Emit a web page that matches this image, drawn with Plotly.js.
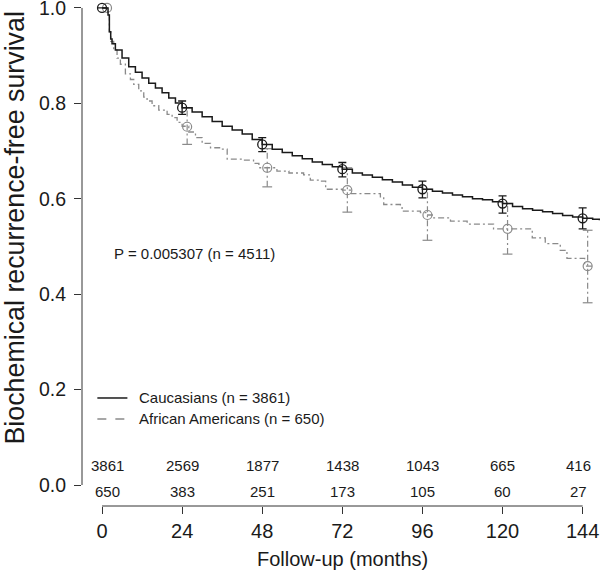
<!DOCTYPE html>
<html>
<head>
<meta charset="utf-8">
<script src="https://cdn.plot.ly/plotly-3.0.1.min.js"></script>
<style>html,body{margin:0;padding:0;background:#fff;}#chart{width:600px;height:573px;}</style>
</head>
<body>
<div id="chart"></div>
<script>
// ---- data ----
const cauTime = [0,1.8,2.2,2.6,3,4,6,8,10,12,14,16,18,20,22,24,27,30,33,36,39,42,45,48,51,54,57,60,63,66,69,72,75,78,81,84,87,90,93,96,99,102,105,108,111,114,117,120,123,126,129,132,135,138,141,144,147,149];
const cauSurv = [1.0,0.985,0.95,0.935,0.925,0.912,0.895,0.877,0.865,0.853,0.842,0.832,0.822,0.811,0.801,0.791,0.782,0.772,0.762,0.752,0.744,0.736,0.724,0.714,0.704,0.697,0.690,0.684,0.677,0.672,0.667,0.662,0.654,0.650,0.645,0.640,0.635,0.629,0.624,0.620,0.616,0.612,0.608,0.604,0.600,0.598,0.594,0.590,0.584,0.579,0.576,0.573,0.569,0.565,0.562,0.559,0.557,0.555];

const afrTime = [0,1.8,2.2,2.6,3.5,4.5,5.5,7,8.5,9.5,11,12.5,13.5,15,17,19.5,21,22.5,24,26,28,30,32.5,35.5,37.5,42.4,45.4,47,52.4,56,60.4,62.4,65.4,67,72,74.4,83.4,84.4,89.4,89.9,95.4,97,99.4,104.4,109.4,117.3,128.9,132.8,137.3,139.3,144.6,146.8];
const afrSurv = [1.0,0.985,0.95,0.93,0.912,0.895,0.882,0.862,0.85,0.84,0.826,0.813,0.805,0.795,0.786,0.777,0.77,0.76,0.752,0.74,0.728,0.716,0.707,0.704,0.683,0.681,0.674,0.665,0.658,0.654,0.650,0.639,0.637,0.620,0.618,0.611,0.604,0.588,0.585,0.574,0.571,0.566,0.560,0.553,0.547,0.537,0.518,0.506,0.492,0.475,0.459,0.459];

const markTimes = [0,24,48,72,96,120,144];
const cauMark = [1.0,0.791,0.714,0.662,0.620,0.590,0.559];
const cauLo   = [1.0,0.777,0.699,0.646,0.602,0.570,0.537];
const cauHi   = [1.0,0.805,0.728,0.676,0.637,0.606,0.581];
const afrMark = [1.0,0.751,0.665,0.618,0.566,0.537,0.459];
const afrLo   = [1.0,0.714,0.625,0.572,0.513,0.484,0.382];
const afrHi   = [1.0,0.790,0.705,0.665,0.620,0.590,0.534];

const cauAtRisk = [3861,2569,1877,1438,1043,665,416];
const afrAtRisk = [650,383,251,173,105,60,27];

const yTickVals = [0,0.2,0.4,0.6,0.8,1.0];
const yTickText = ['0.0','0.2','0.4','0.6','0.8','1.0'];

const seriesNames = ['Caucasians (n = 3861)','African Americans (n = 650)'];
const pText = 'P = 0.005307 (n = 4511)';
const xTitle = 'Follow-up (months)';
const yTitle = 'Biochemical recurrence-free survival';

// ---- styles ----
const FONT = 'Liberation Sans, Arial, Helvetica, sans-serif';
const BLACK = '#1a1a1a';
const GREY = '#8a8a8a';
const GREY_DASH = '6px,3px,2px,3px';
const afrOffset = 1.5;

const afrMarkX = markTimes.map(t => t + afrOffset);

// grey CI segments
const ciX = [], ciY = [], capX = [], capY = [];
for (let i = 0; i < markTimes.length; i++) {
  if (afrHi[i] > afrLo[i]) {
    ciX.push(afrMarkX[i], afrMarkX[i], null);
    ciY.push(afrLo[i], afrHi[i], null);
    capX.push(afrMarkX[i], afrMarkX[i]);
    capY.push(afrLo[i], afrHi[i]);
  }
}

const traces = [
  {x: afrTime, y: afrSurv, type: 'scatter', mode: 'lines', line: {shape: 'hv', color: GREY, width: 1.3, dash: GREY_DASH}, showlegend: false, hoverinfo: 'skip'},
  {x: ciX, y: ciY, type: 'scatter', mode: 'lines', line: {color: GREY, width: 1.2, dash: GREY_DASH}, showlegend: false, hoverinfo: 'skip'},
  {x: capX, y: capY, type: 'scatter', mode: 'markers', marker: {symbol: 'line-ew-open', size: 7, color: GREY, line: {color: GREY, width: 1.2}}, showlegend: false, hoverinfo: 'skip'},
  {x: afrMarkX, y: afrMark, type: 'scatter', mode: 'markers', marker: {symbol: 'circle-open', size: 9, color: GREY, line: {color: GREY, width: 1.2}}, showlegend: false, cliponaxis: false, hoverinfo: 'skip'},
  {x: cauTime, y: cauSurv, type: 'scatter', mode: 'lines', line: {shape: 'hv', color: BLACK, width: 1.5}, showlegend: false, hoverinfo: 'skip'},
  {x: markTimes, y: cauMark, type: 'scatter', mode: 'markers',
   marker: {symbol: 'circle-open', size: 9, color: BLACK, line: {color: BLACK, width: 1.3}},
   error_y: {type: 'data', symmetric: false,
             array: cauHi.map((h, i) => h - cauMark[i]),
             arrayminus: cauLo.map((l, i) => cauMark[i] - l),
             color: BLACK, thickness: 1.3, width: 4},
   showlegend: false, cliponaxis: false, hoverinfo: 'skip'}
];

const atRiskShift = (i) => (i === 0 ? 5 : (i === markTimes.length - 1 ? -4 : 0));
const annotations = [];
markTimes.forEach((t, i) => {
  annotations.push({x: t, y: 0.041, xref: 'x', yref: 'y', xshift: atRiskShift(i), text: String(cauAtRisk[i]), showarrow: false, font: {family: FONT, size: 15, color: BLACK}, xanchor: 'center', yanchor: 'middle'});
  annotations.push({x: t, y: -0.0136, xref: 'x', yref: 'y', xshift: atRiskShift(i), text: String(afrAtRisk[i]), showarrow: false, font: {family: FONT, size: 15, color: BLACK}, xanchor: 'center', yanchor: 'middle'});
});
annotations.push({x: 3.1, y: 0.486, xref: 'x', yref: 'y', text: pText, showarrow: false, xanchor: 'left', yanchor: 'middle', font: {family: FONT, size: 15, color: BLACK}});
annotations.push({x: 72, y: -0.107, xref: 'x', yref: 'paper', text: xTitle, showarrow: false, xanchor: 'center', yanchor: 'middle', font: {family: FONT, size: 20, color: BLACK}});
annotations.push({x: -0.129, y: 0.538, xref: 'paper', yref: 'y', text: yTitle, textangle: -90, showarrow: false, xanchor: 'center', yanchor: 'middle', font: {family: FONT, size: 26.8, color: BLACK}});
// legend (manual)
const legY = [0.1824, 0.1384];
annotations.push({x: 10.6, y: legY[0], xref: 'x', yref: 'y', text: seriesNames[0], showarrow: false, xanchor: 'left', yanchor: 'middle', font: {family: FONT, size: 15, color: BLACK}});
annotations.push({x: 10.6, y: legY[1], xref: 'x', yref: 'y', text: seriesNames[1], showarrow: false, xanchor: 'left', yanchor: 'middle', font: {family: FONT, size: 15, color: BLACK}});

const layout = {
  width: 600, height: 573,
  margin: {l: 82, r: 0, t: 7, b: 67},
  paper_bgcolor: '#fff', plot_bgcolor: '#fff',
  font: {family: FONT, color: BLACK},
  showlegend: false,
  xaxis: {range: [-6, 149.2], tickvals: markTimes, ticks: 'outside', ticklen: 7, tickwidth: 1, tickcolor: '#333',
          showline: false, zeroline: false, showgrid: false, tickfont: {family: FONT, size: 20, color: BLACK}, ticklabeloverflow: 'allow'},
  yaxis: {range: [-0.044, 1.002], tickvals: yTickVals, ticktext: yTickText, ticks: 'outside', ticklen: 7, tickwidth: 1, tickcolor: '#333',
          showline: false, zeroline: false, showgrid: false, tickfont: {family: FONT, size: 19.5, color: BLACK}, ticklabelstandoff: 4, ticklabeloverflow: 'allow'},
  shapes: [
    {type: 'line', xref: 'x', yref: 'paper', x0: markTimes[0], x1: markTimes[markTimes.length - 1], y0: 0, y1: 0, line: {color: '#333', width: 1}},
    {type: 'line', xref: 'paper', yref: 'y', x0: 0, x1: 0, y0: yTickVals[0], y1: yTickVals[yTickVals.length - 1], line: {color: '#333', width: 1}},
    {type: 'line', xref: 'x', yref: 'y', x0: -1.4, x1: 7.6, y0: legY[0], y1: legY[0], line: {color: BLACK, width: 1.5}},
    {type: 'line', xref: 'x', yref: 'y', x0: -1.4, x1: 7.6, y0: legY[1], y1: legY[1], line: {color: GREY, width: 1.3, dash: 'dash'}}
  ],
  annotations: annotations
};

Plotly.newPlot('chart', traces, layout, {displayModeBar: false, staticPlot: true});
</script>
</body>
</html>
